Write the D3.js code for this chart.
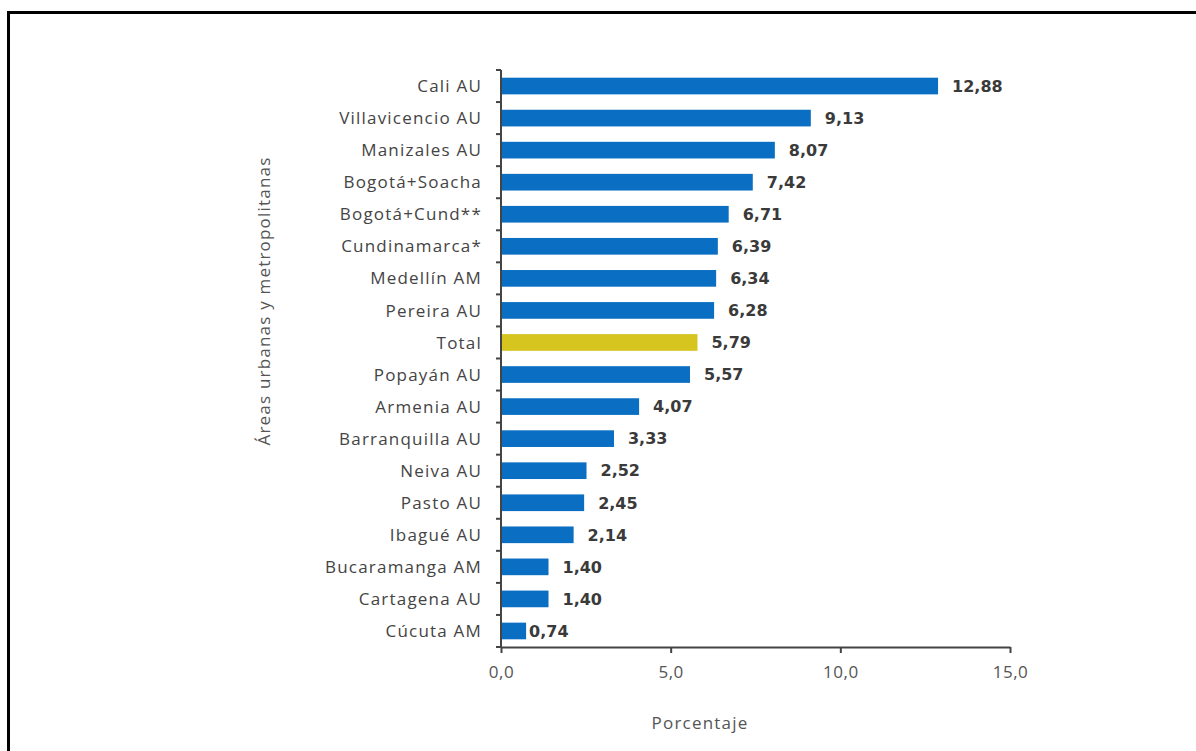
<!DOCTYPE html>
<html>
<head>
<meta charset="utf-8">
<script src="https://cdn.jsdelivr.net/npm/d3@7"></script>
<style>
  html, body { margin: 0; padding: 0; background: #fff; }
  svg { display: block; }
</style>
</head>
<body>
<svg id="chart" width="1196" height="751"></svg>
<script>
// Areas, in display order (top to bottom)
const categories = [
  "Cali AU", "Villavicencio AU", "Manizales AU", "Bogotá+Soacha",
  "Bogotá+Cund**", "Cundinamarca*", "Medellín AM", "Pereira AU", "Total",
  "Popayán AU", "Armenia AU", "Barranquilla AU", "Neiva AU", "Pasto AU",
  "Ibagué AU", "Bucaramanga AM", "Cartagena AU", "Cúcuta AM"
];
const values = [
  12.88, 9.13, 8.07, 7.42, 6.71, 6.39, 6.34, 6.28, 5.79,
  5.57, 4.07, 3.33, 2.52, 2.45, 2.14, 1.40, 1.40, 0.74
];
const xTicks = [0, 5, 10, 15];
const highlight = "Total";

(function () {
  const svg = d3.select("#chart");
  const W = 1196, H = 751;
  const sans = "Open Sans, sans-serif";

  // Frame around the figure
  svg.append("path")
    .attr("d", `M8.5,${H} L8.5,12.5 L${W},12.5`)
    .attr("fill", "none")
    .attr("stroke", "#000")
    .attr("stroke-width", 3);

  const plot = { left: 501, right: 1010, top: 70, bottom: 647 };

  const x = d3.scaleLinear().domain([0, 15]).range([plot.left, plot.right]);
  const y = d3.scaleBand().domain(categories).range([plot.top, plot.bottom])
    .paddingInner(0.48).paddingOuter(0.24);

  const fmt = v => d3.format(".2f")(v).replace(".", ",");
  const fmtTick = v => d3.format(".1f")(v).replace(".", ",");

  // Bars
  svg.append("g").selectAll("rect")
    .data(categories)
    .join("rect")
    .attr("x", x(0) + 1)
    .attr("y", d => y(d))
    .attr("width", (d, i) => x(values[i]) - x(0) - 1)
    .attr("height", y.bandwidth())
    .attr("fill", d => d === highlight ? "#d6c41f" : "#0a6fc2");

  // Value labels
  svg.append("g").selectAll("text")
    .data(categories)
    .join("text")
    .attr("x", (d, i) => x(values[i]) + (values[i] < 1 ? 3 : 14))
    .attr("y", d => y(d) + y.bandwidth() / 2)
    .attr("dy", "0.36em")
    .attr("font-family", "DejaVu Sans, sans-serif")
    .attr("font-weight", "bold")
    .attr("font-size", 16)
    .attr("fill", "#3a3a3a")
    .text((d, i) => fmt(values[i]));

  // Y axis: line with ticks between categories
  const yAxisG = svg.append("g");
  yAxisG.append("line")
    .attr("x1", plot.left).attr("x2", plot.left)
    .attr("y1", plot.top).attr("y2", plot.bottom)
    .attr("stroke", "#444").attr("stroke-width", 2);
  const step = (plot.bottom - plot.top) / categories.length;
  yAxisG.selectAll("line.tick")
    .data(d3.range(categories.length + 1))
    .join("line")
    .attr("class", "tick")
    .attr("x1", plot.left - 5).attr("x2", plot.left)
    .attr("y1", i => plot.top + i * step).attr("y2", i => plot.top + i * step)
    .attr("stroke", "#444").attr("stroke-width", 2);

  // Category labels
  svg.append("g").selectAll("text")
    .data(categories)
    .join("text")
    .attr("x", plot.left - 19)
    .attr("y", d => y(d) + y.bandwidth() / 2)
    .attr("dy", "0.36em")
    .attr("text-anchor", "end")
    .attr("font-family", sans)
    .attr("font-size", 17)
    .attr("letter-spacing", 1.2)
    .attr("fill", "#444")
    .text(d => d);

  // X axis
  const xAxis = d3.axisBottom(x).tickValues(xTicks).tickFormat(fmtTick).tickSize(6).tickSizeOuter(0);
  const xg = svg.append("g").attr("transform", `translate(0,${plot.bottom})`).call(xAxis);
  xg.select(".domain").attr("stroke", "#444").attr("stroke-width", 2);
  xg.selectAll(".tick line").attr("stroke", "#444").attr("stroke-width", 2);
  xg.selectAll(".tick text")
    .attr("y", 19)
    .attr("font-family", sans)
    .attr("font-size", 17)
    .attr("letter-spacing", 0.5)
    .attr("fill", "#555");

  // Axis titles
  svg.append("text")
    .attr("x", 700).attr("y", 729)
    .attr("text-anchor", "middle")
    .attr("font-family", sans)
    .attr("font-size", 17)
    .attr("letter-spacing", 1.2)
    .attr("fill", "#555")
    .text("Porcentaje");

  svg.append("text")
    .attr("transform", "translate(270,301) rotate(-90)")
    .attr("text-anchor", "middle")
    .attr("font-family", sans)
    .attr("font-size", 17)
    .attr("letter-spacing", 1.2)
    .attr("fill", "#555")
    .text("Áreas urbanas y metropolitanas");
})();
</script>
</body>
</html>
